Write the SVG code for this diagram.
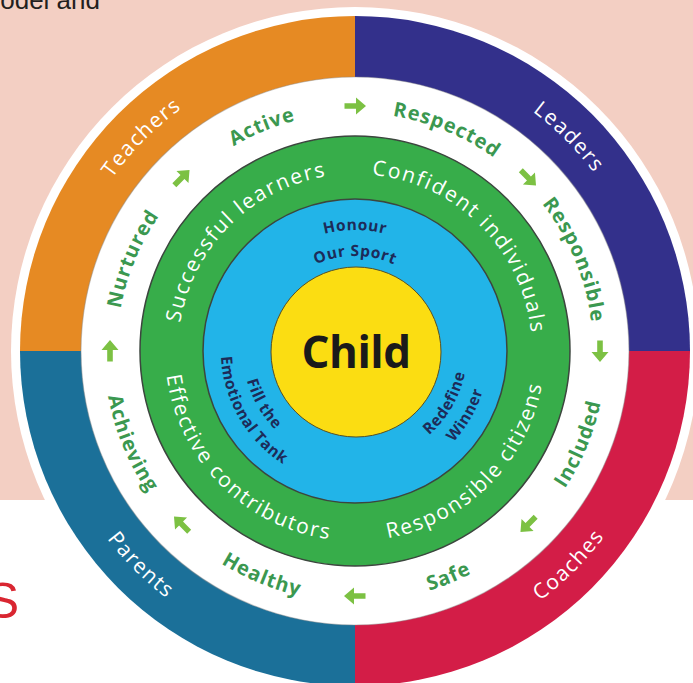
<svg xmlns="http://www.w3.org/2000/svg" width="693" height="683" viewBox="0 0 693 683">
  <style>
    .txt{font-family:"Open Sans","Noto Sans","DejaVu Sans",sans-serif}
    .lbl-outer{font-size:21px;fill:#ffffff;letter-spacing:1.5px}
    .lbl-value{font-size:20px;font-weight:700;fill:#3b9850;letter-spacing:1px}
    .lbl-cap{font-size:21px;fill:#ffffff;letter-spacing:1.8px}
    .lbl-prin{font-size:15.5px;font-weight:700;fill:#1d2b58;letter-spacing:0.6px}
    .arrow{fill:#7cc143}
    .edge{stroke:#3c463e;stroke-width:1.5}
  </style>
  <defs>
    <!-- clockwise arcs centred on the top of the wheel -->
    <path id="top298" d="M57 351 A298 298 0 0 1 653 351"/>
    <path id="top238" d="M117 351 A238 238 0 0 1 593 351"/>
    <path id="top177" d="M178 351 A177 177 0 0 1 532 351"/>
    <path id="top121" d="M234 351 A121 121 0 0 1 476 351"/>
    <path id="top95" d="M260 351 A95 95 0 0 1 450 351"/>
    <!-- anticlockwise arcs centred on the bottom of the wheel -->
    <path id="bot311" d="M44 351 A311 311 0 0 0 666 351"/>
    <path id="bot251" d="M104 351 A251 251 0 0 0 606 351"/>
    <path id="bot190" d="M165 351 A190 190 0 0 0 545 351"/>
    <path id="bot112" d="M243 351 A112 112 0 0 0 467 351"/>
    <path id="bot134" d="M221 351 A134 134 0 0 0 489 351"/>
    <!-- small chunky arrow pointing right -->
    <path id="arrowhead" d="M-10.5 -2.8 H1 V-8.5 L11 0 L1 8.5 V2.8 H-10.5 Z"/>
  </defs>

  <!-- page background -->
  <rect x="0" y="0" width="693" height="683" fill="#ffffff"/>
  <rect x="0" y="0" width="693" height="500" fill="#f3cfc3"/>
  <text x="100" y="9" text-anchor="end" style="font-family:'Liberation Sans',Arial,sans-serif;font-size:26px;fill:#231f20">odel and</text>
  <text x="19" y="618" text-anchor="end" style="font-family:'Liberation Sans',Arial,sans-serif;font-size:50px;fill:#d92631">S</text>

  <!-- wheel base -->
  <circle cx="355" cy="351" r="344" fill="#ffffff"/>

  <!-- outer ring quadrants -->
  <g id="quadrants">
    <path d="M355 351 L20 351 A335 335 0 0 1 355 16 Z" fill="#e68a23"/>
    <path d="M355 351 L355 16 A335 335 0 0 1 690 351 Z" fill="#33308b"/>
    <path d="M355 351 L690 351 A335 335 0 0 1 355 686 Z" fill="#d31d47"/>
    <path d="M355 351 L355 686 A335 335 0 0 1 20 351 Z" fill="#1b7099"/>
  </g>

  <!-- inner rings -->
  <circle cx="355" cy="351" r="274" fill="#ffffff" stroke="#8a8a8a" stroke-opacity="0.45" stroke-width="1.2"/>
  <circle cx="355" cy="351" r="215" fill="#37ad4a" class="edge"/>
  <circle cx="355" cy="351" r="152" fill="#22b4e8" class="edge"/>
  <circle cx="356" cy="352" r="85" fill="#fbdd12" stroke="#5a5020" stroke-width="1"/>

  <!-- people around the child -->
  <g id="teachers" transform="rotate(-45 355 351)">
    <text class="txt lbl-outer"><textPath href="#top298" startOffset="50%" text-anchor="middle">Teachers</textPath></text>
  </g>
  <g id="leaders" transform="rotate(45 355 351)">
    <text class="txt lbl-outer"><textPath href="#top298" startOffset="50%" text-anchor="middle">Leaders</textPath></text>
  </g>
  <g id="coaches" transform="rotate(-45 355 351)">
    <text class="txt lbl-outer"><textPath href="#bot311" startOffset="50%" text-anchor="middle">Coaches</textPath></text>
  </g>
  <g id="parents" transform="rotate(45 355 351)">
    <text class="txt lbl-outer"><textPath href="#bot311" startOffset="50%" text-anchor="middle">Parents</textPath></text>
  </g>

  <!-- wellbeing values -->
  <g id="active" transform="rotate(-22.5 355 351)">
    <text class="txt lbl-value"><textPath href="#top238" startOffset="50%" text-anchor="middle">Active</textPath></text>
  </g>
  <g id="respected" transform="rotate(22.5 355 351)">
    <text class="txt lbl-value"><textPath href="#top238" startOffset="50%" text-anchor="middle">Respected</textPath></text>
  </g>
  <g id="responsible" transform="rotate(67.5 355 351)">
    <text class="txt lbl-value"><textPath href="#top238" startOffset="50%" text-anchor="middle">Responsible</textPath></text>
  </g>
  <g id="included" transform="rotate(-67.5 355 351)">
    <text class="txt lbl-value"><textPath href="#bot251" startOffset="50%" text-anchor="middle">Included</textPath></text>
  </g>
  <g id="safe" transform="rotate(-22.5 355 351)">
    <text class="txt lbl-value"><textPath href="#bot251" startOffset="50%" text-anchor="middle">Safe</textPath></text>
  </g>
  <g id="healthy" transform="rotate(22.5 355 351)">
    <text class="txt lbl-value"><textPath href="#bot251" startOffset="50%" text-anchor="middle">Healthy</textPath></text>
  </g>
  <g id="achieving" transform="rotate(67.5 355 351)">
    <text class="txt lbl-value"><textPath href="#bot251" startOffset="50%" text-anchor="middle">Achieving</textPath></text>
  </g>
  <g id="nurtured" transform="rotate(-67.5 355 351)">
    <text class="txt lbl-value"><textPath href="#top238" startOffset="50%" text-anchor="middle">Nurtured</textPath></text>
  </g>

  <!-- clockwise arrows between the values -->
  <g id="connectors" class="arrow">
    <use href="#arrowhead" transform="rotate(0 355 351) translate(355 106)"/>
    <use href="#arrowhead" transform="rotate(45 355 351) translate(355 106)"/>
    <use href="#arrowhead" transform="rotate(90 355 351) translate(355 106)"/>
    <use href="#arrowhead" transform="rotate(135 355 351) translate(355 106)"/>
    <use href="#arrowhead" transform="rotate(180 355 351) translate(355 106)"/>
    <use href="#arrowhead" transform="rotate(225 355 351) translate(355 106)"/>
    <use href="#arrowhead" transform="rotate(270 355 351) translate(355 106)"/>
    <use href="#arrowhead" transform="rotate(315 355 351) translate(355 106)"/>
  </g>

  <!-- four capacities -->
  <g id="successful-learners" transform="rotate(-45 355 351)">
    <text class="txt lbl-cap"><textPath href="#top177" startOffset="50%" text-anchor="middle">Successful learners</textPath></text>
  </g>
  <g id="confident-individuals" transform="rotate(45 355 351)">
    <text class="txt lbl-cap"><textPath href="#top177" startOffset="50%" text-anchor="middle">Confident individuals</textPath></text>
  </g>
  <g id="responsible-citizens" transform="rotate(-45 355 351)">
    <text class="txt lbl-cap"><textPath href="#bot190" startOffset="50%" text-anchor="middle">Responsible citizens</textPath></text>
  </g>
  <g id="effective-contributors" transform="rotate(45 355 351)">
    <text class="txt lbl-cap"><textPath href="#bot190" startOffset="50%" text-anchor="middle">Effective contributors</textPath></text>
  </g>

  <!-- guiding principles -->
  <g id="honour-our-sport">
    <text class="txt lbl-prin"><textPath href="#top121" startOffset="50%" text-anchor="middle">Honour</textPath></text>
    <text class="txt lbl-prin"><textPath href="#top95" startOffset="50%" text-anchor="middle">Our Sport</textPath></text>
  </g>
  <g id="fill-the-emotional-tank" transform="rotate(60 355 351)">
    <text class="txt lbl-prin"><textPath href="#bot112" startOffset="50%" text-anchor="middle">Fill the</textPath></text>
    <text class="txt lbl-prin"><textPath href="#bot134" startOffset="50%" text-anchor="middle">Emotional Tank</textPath></text>
  </g>
  <g id="redefine-winner" transform="rotate(-60 355 351)">
    <text class="txt lbl-prin"><textPath href="#bot112" startOffset="50%" text-anchor="middle">Redefine</textPath></text>
    <text class="txt lbl-prin"><textPath href="#bot134" startOffset="50%" text-anchor="middle">Winner</textPath></text>
  </g>

  <!-- centre -->
  <g id="child">
    <text class="txt" x="356" y="368" text-anchor="middle" style="font-size:44px;font-weight:700;fill:#1a1a1a;letter-spacing:-0.5px">Child</text>
  </g>
</svg>
